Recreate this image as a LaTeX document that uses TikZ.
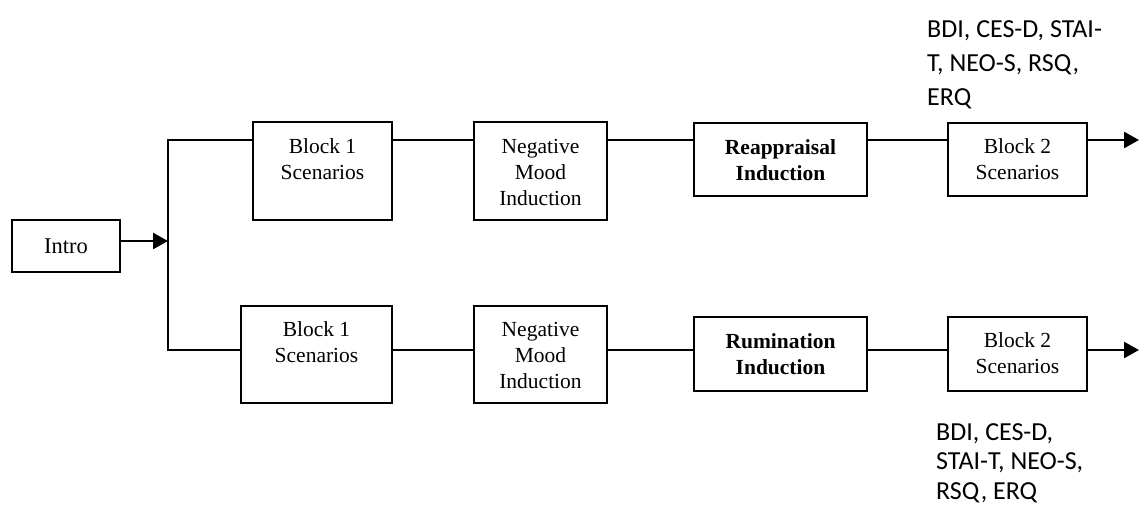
\documentclass[tikz,border=0pt]{standalone}
\usepackage{fontspec}
\setmainfont{Liberation Serif}
\newfontfamily\calib{Carlito}
\usetikzlibrary{arrows.meta}
\begin{document}
\begin{tikzpicture}[x=1pt,y=-1pt,
  box/.style={draw, line width=1.8pt, inner sep=0pt},
  lbl/.style={inner sep=0pt, align=center, anchor=north, font=\fontsize{21.5}{26}\selectfont},
  blbl/.style={lbl, font=\fontsize{21.5}{26}\selectfont\bfseries},
  note/.style={inner sep=0pt, align=left, anchor=north west},
  conn/.style={line width=2.5pt},
  arr/.style={conn, -{Triangle[length=15pt,width=16pt]}}]
\useasboundingbox (0,0) rectangle (1139,506);

% Intro
\node[box, minimum width=108pt, minimum height=52pt, font=\fontsize{22.5}{26}\selectfont] (intro) at (66,246) {Intro};

% junction coordinates
\coordinate (jn) at (168,241);
\coordinate (topc) at (168,140);
\coordinate (botc) at (168,350);
\coordinate (tend) at (1139,140);
\coordinate (bend) at (1139,350);

% top row boxes
\node[box, minimum width=139pt, minimum height=98pt] (T1) at (322.5,171) {};
\node[box, minimum width=133pt, minimum height=98pt] (T2) at (540.5,171) {};
\node[box, minimum width=173pt, minimum height=73pt] (T3) at (780.5,159.5) {};
\node[box, minimum width=139pt, minimum height=73pt] (T4) at (1017.5,159.5) {};

% bottom row boxes
\node[box, minimum width=151pt, minimum height=97pt] (B1) at (316.5,354.5) {};
\node[box, minimum width=133pt, minimum height=97pt] (B2) at (540.5,354.5) {};
\node[box, minimum width=173pt, minimum height=74pt] (B3) at (780.5,354) {};
\node[box, minimum width=139pt, minimum height=74pt] (B4) at (1017.5,354) {};

% labels
\node[lbl] (T1t) at (322.5,138.3) {Block 1\\Scenarios};
\node[lbl] (T2t) at (540.5,138.8) {Negative\\Mood\\Induction};
\node[blbl] (T3t) at (780.5,139.3) {Reappraisal\\Induction};
\node[lbl] (T4t) at (1017.5,138.3) {Block 2\\Scenarios};

\node[lbl] (B1t) at (316.5,321.3) {Block 1\\Scenarios};
\node[lbl] (B2t) at (540.5,321.8) {Negative\\Mood\\Induction};
\node[blbl] (B3t) at (780.5,333.3) {Rumination\\Induction};
\node[lbl] (B4t) at (1017.5,332.3) {Block 2\\Scenarios};

% notes
\node[note, font=\calib\fontsize{26}{34}\selectfont] (ntop) at (927,20.3) {BDI, CES-D, STAI-\\T, NEO-S, RSQ,\\ERQ};
\node[note, font=\calib\fontsize{26}{29.5}\selectfont] (nbot) at (936,423) {BDI, CES-D,\\STAI-T, NEO-S,\\RSQ, ERQ};

% connectors
\draw[arr] (intro.east |- jn) -- (jn);
\draw[conn, line join=miter] (T1.west |- topc) -- (topc) -- (botc) -- (B1.west |- botc);
\draw[conn] (T1.east |- topc) -- (T2.west |- topc);
\draw[conn] (T2.east |- topc) -- (T3.west |- topc);
\draw[conn] (T3.east |- topc) -- (T4.west |- topc);
\draw[arr] (T4.east |- topc) -- (tend);
\draw[conn] (B1.east |- botc) -- (B2.west |- botc);
\draw[conn] (B2.east |- botc) -- (B3.west |- botc);
\draw[conn] (B3.east |- botc) -- (B4.west |- botc);
\draw[arr] (B4.east |- botc) -- (bend);
\end{tikzpicture}
\end{document}
